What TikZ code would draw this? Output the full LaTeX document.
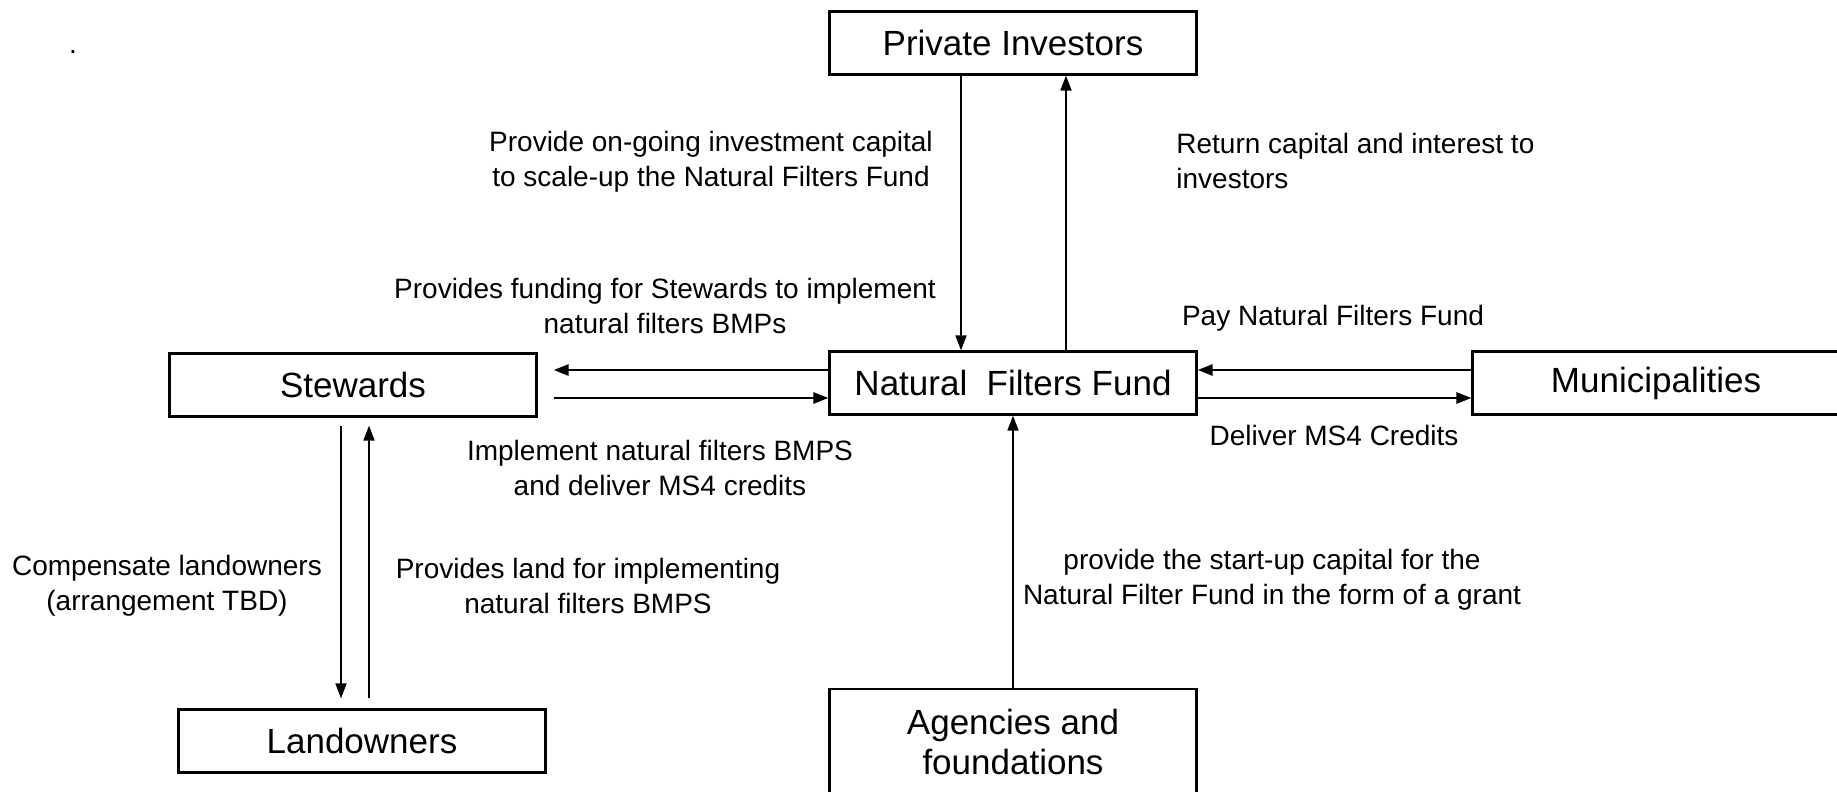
\documentclass[tikz,border=0pt]{standalone}
\usepackage{fontspec}
\setmainfont{Liberation Sans}
\usepackage{tikz}
\usetikzlibrary{positioning}
\usetikzlibrary{arrows.meta}

\begin{document}
\begin{tikzpicture}[x=0.5pt,y=-0.5pt,
		party/.style={draw,line width=1.1pt,minimum width=183.5pt,minimum height=31.5pt,inner sep=0pt,align=center,font=\fontsize{17.5}{20}\selectfont},
		note/.style={align=center,inner sep=0pt,font=\fontsize{14}{17.5}\selectfont},
		flow/.style={line width=1.3pt,-{Triangle[length=7.5pt,width=5.5pt]}},
		flowv/.style={line width=0.9pt,-{Triangle[length=7.5pt,width=5.5pt]}}]
				\useasboundingbox (0,0) rectangle (1837,792);
				\clip (0,0) rectangle (1837,792);

				%Coordinates
				\coordinate      (k1) 	at 	(961,0);
				\coordinate      (k2) 	at 	(1066,0);
				\coordinate      (k3) 	at 	(341,0);
				\coordinate      (k4) 	at 	(369,0);
				\coordinate      (r1) 	at 	(0,370);
				\coordinate      (r2) 	at 	(0,398);

				%Nodes
				\node[party] 		 (pi) at (1013,43) {Private Investors};
				\node[party] 		 (nff) at (1013,383) {Natural\ \ Filters Fund};
				\node[party] 		 (stew) at (353,385) {Stewards};
				\node[party] 		 (muni) at (1656,383) {Municipalities};
				\node[party] 		 (land) at (362,741) {Landowners};
				\node[party,minimum height=53pt] 		 (agen) at (1013,742) {Agencies and\\foundations};

				\node[note,anchor=base] 		 (dot) at (73,54) {.};
				\node[note] 		 (t1) at (711,162) {Provide on-going investment capital\\to scale-up the Natural Filters Fund};
				\node[note,align=left,anchor=west] 		 (t2) at (1176,161) {Return capital and interest to\\investors};
				\node[note] 		 (t3) at (665,306) {Provides funding for Stewards to implement\\natural filters BMPs};
				\node[note] 		 (t4) at (1333,318) {Pay Natural Filters Fund};
				\node[note] 		 (t5) at (1334,435) {Deliver MS4 Credits};
				\node[note] 		 (t6) at (660,468) {Implement natural filters BMPS\\and deliver MS4 credits};
				\node[note] 		 (t7) at (167,586) {Compensate landowners\\(arrangement TBD)};
				\node[note] 		 (t8) at (588,586) {Provides land for implementing\\natural filters BMPS};
				\node[note] 		 (t9) at (1272,580) {provide the start-up capital for the\\Natural Filter Fund in the form of a grant};

				%Lines
				\draw[flowv] (pi.south -| k1) -- (nff.north -| k1);
				\draw[flowv] (nff.north -| k2) -- (pi.south -| k2);
				\draw[flow,shorten >=8pt] (nff.west |- r1) -- (stew.east |- r1);
				\draw[flow,shorten <=8pt] (stew.east |- r2) -- (nff.west |- r2);
				\draw[flow] (muni.west |- r1) -- (nff.east |- r1);
				\draw[flow] (nff.east |- r2) -- (muni.west |- r2);
				\draw[flowv] (agen.north) -- (nff.south);
				\draw[flowv,shorten <=4pt,shorten >=5pt] (stew.south -| k3) -- (land.north -| k3);
				\draw[flowv,shorten <=5pt,shorten >=4pt] (land.north -| k4) -- (stew.south -| k4);

		\end{tikzpicture}
\end{document}
